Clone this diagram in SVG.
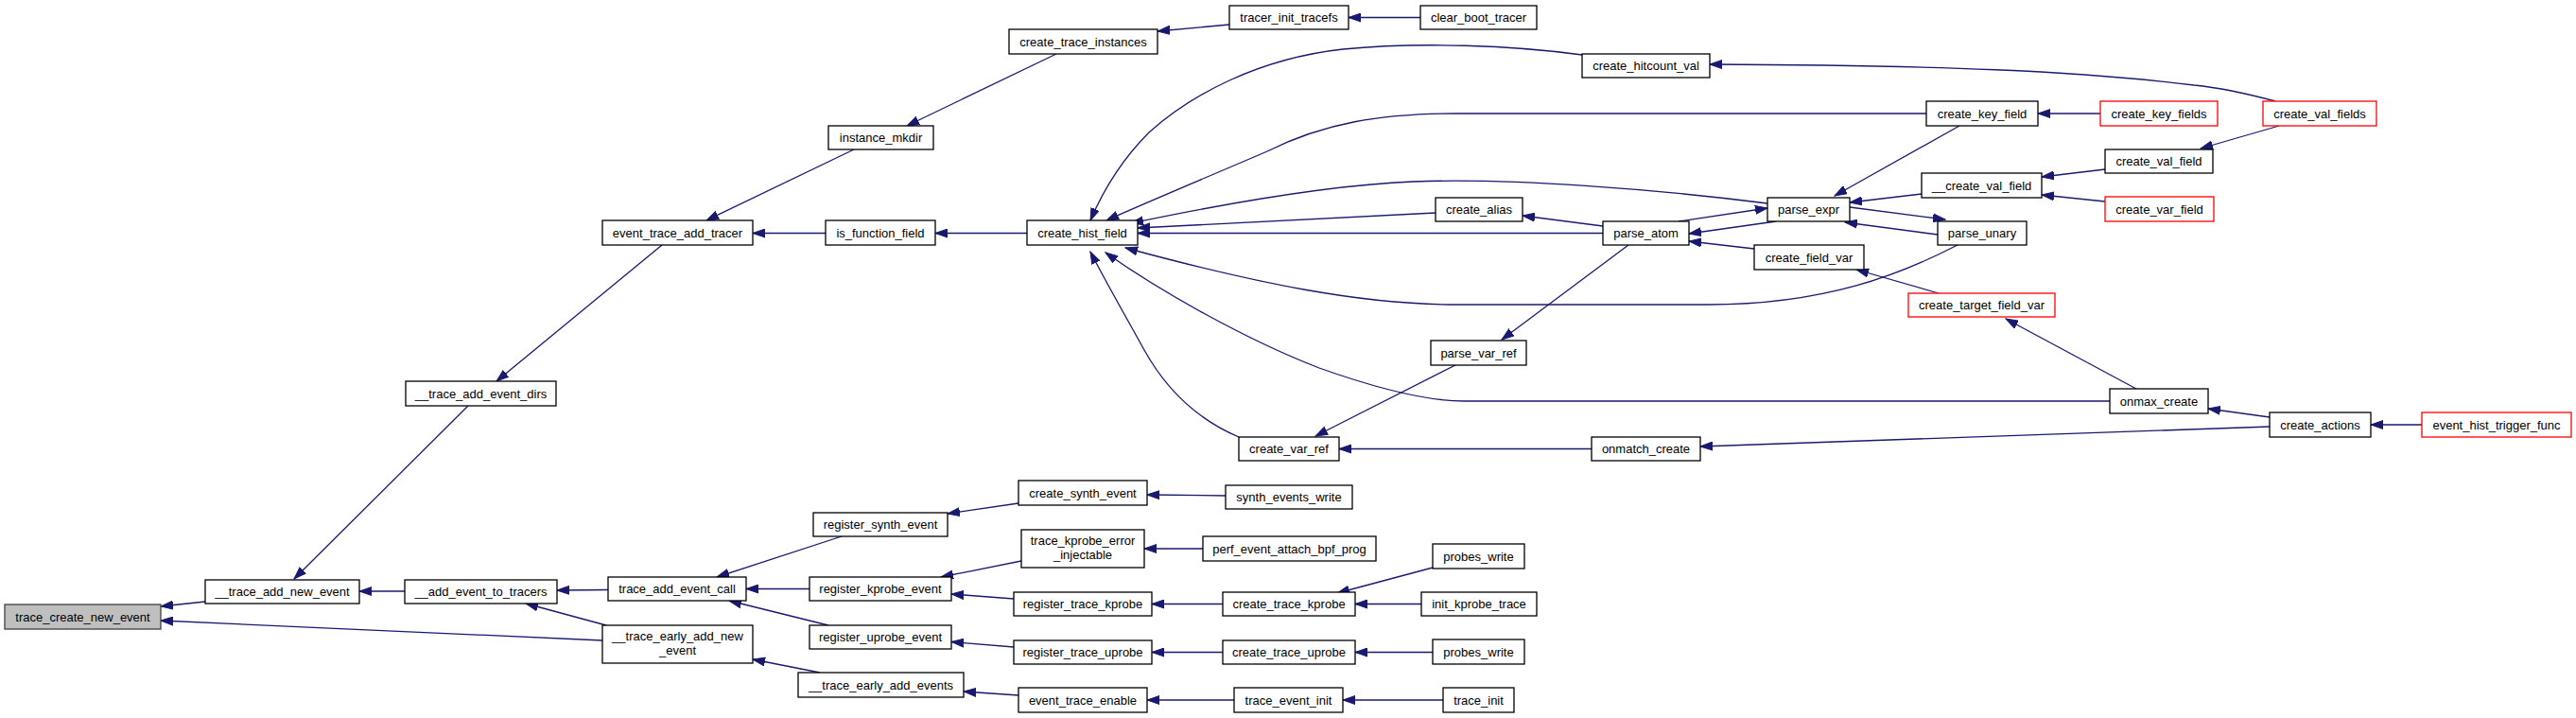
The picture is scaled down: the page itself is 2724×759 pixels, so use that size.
<svg xmlns="http://www.w3.org/2000/svg" width="2724" height="759" viewBox="0 0 2724 759">
<style>
rect{fill:#fff;stroke:#000;stroke-width:1.3}
rect.root{fill:#bfbfbf;stroke:#404040}
rect.red{stroke:#ff0000}
text{font-family:"Liberation Sans",Arial,sans-serif;font-size:13px;fill:#000;text-anchor:middle}
#edges path{fill:none;stroke:#191970;stroke-width:1.3;marker-end:url(#ah)}
</style>
<defs>
<marker id="ah" markerUnits="userSpaceOnUse" markerWidth="14" markerHeight="10" refX="13" refY="5" orient="auto" viewBox="0 0 14 10">
<path d="M0,0.5 L13,5 L0,9.5 z" fill="#191970" stroke="#191970" stroke-width="1"/>
</marker>
</defs>
<rect x="0" y="0" width="2724" height="759" style="fill:#fff;stroke:none"/>
<g id="edges">
<path d="M217,636 L170,641"/>
<path d="M637,677 L170,656"/>
<path d="M428,625 L380,625"/>
<path d="M495,429 L311,612"/>
<path d="M700,259 L525,403"/>
<path d="M643,623.5 L589,624"/>
<path d="M641,661 L556,638"/>
<path d="M903,158 L747,233"/>
<path d="M873,246.5 L796,246.5"/>
<path d="M1117,57 L959,133"/>
<path d="M1086,246.5 L989,246.5"/>
<path d="M890,567 L758,610"/>
<path d="M856,622.5 L789,622.5"/>
<path d="M876,661 L771,635"/>
<path d="M867,711 L796,697"/>
<path d="M1300,26 L1224,33"/>
<path d="M1077,532 L1002,543"/>
<path d="M1080,593 L995,610"/>
<path d="M1072,633 L1006,628"/>
<path d="M1072,684 L1006,678.5"/>
<path d="M1077,735 L1019,731"/>
<path d="M1502,18.5 L1426,18.5"/>
<path d="M1296,524 L1213,523"/>
<path d="M1272,580 L1210,580"/>
<path d="M1293,638.5 L1218,638.5"/>
<path d="M1293,689.5 L1218,689.5"/>
<path d="M1305,740 L1213,740"/>
<path d="M1515,600 L1414,627"/>
<path d="M1503,638.5 L1433,638.5"/>
<path d="M1515,689.5 L1433,689.5"/>
<path d="M1526,740 L1420,740"/>
<path d="M1673,58 C1600,48 1500,44 1420,52 C1330,62 1260,100 1215,140 C1185,170 1165,205 1153,233"/>
<path d="M2037,120 L1540,120 C1460,120 1400,130 1340,160 C1270,190 1210,215 1170,233"/>
<path d="M1869,215 C1750,200 1600,188 1494,192 C1420,195 1320,210 1196,236"/>
<path d="M1518,225 L1203,241"/>
<path d="M1695,246.5 L1203,246.5"/>
<path d="M2070,259 C2010,290 1930,322 1806,322 L1540,322 C1440,322 1330,300 1190,262"/>
<path d="M2231,424 L1548,424 C1500,424 1440,405 1395,389 C1320,360 1230,310 1169,267"/>
<path d="M1310,462 C1270,445 1235,415 1210,370 C1185,325 1165,290 1153,266"/>
<path d="M2072,133 L1940,207"/>
<path d="M2032,205 L1956,214"/>
<path d="M1956,219 L2057,232"/>
<path d="M2049,248 L1951,235"/>
<path d="M1775,234 L1869,220"/>
<path d="M1878,234 L1786,247"/>
<path d="M1855,263 L1786,255"/>
<path d="M1695,239 L1610,228"/>
<path d="M1722,259 L1588,359"/>
<path d="M1539,386 L1391,461"/>
<path d="M1683,474.5 L1416,474.5"/>
<path d="M2400,451 L1798,472"/>
<path d="M2400,441 L2335,432"/>
<path d="M2561,449 L2507,449"/>
<path d="M2050,310 L1963,285"/>
<path d="M2259,411 L2121,337"/>
<path d="M2226,179 L2159,187"/>
<path d="M2226,213 L2159,206"/>
<path d="M2410,133 L2327,157"/>
<path d="M2221,120 L2155,120"/>
<path d="M2406,107 C2380,100 2350,93 2320,90 C2200,75 2050,69 1808,68"/>
</g>
<g id="n1"><rect class="root" x="5" y="639" width="165" height="26"/><text x="87.5" y="656.5">trace_create_new_event</text></g>
<g id="n2"><rect x="217" y="613" width="163" height="25"/><text x="298.5" y="630">__trace_add_new_event</text></g>
<g id="n3"><rect x="428" y="613" width="161" height="25"/><text x="508.5" y="630">__add_event_to_tracers</text></g>
<g id="n4"><rect x="429" y="403" width="159" height="26"/><text x="508.5" y="420.5">__trace_add_event_dirs</text></g>
<g id="n5"><rect x="637" y="233" width="159" height="26"/><text x="716.5" y="250.5">event_trace_add_tracer</text></g>
<g id="n6"><rect x="643" y="610" width="146" height="25"/><text x="716" y="627">trace_add_event_call</text></g>
<g id="n7"><rect x="637" y="661" width="159" height="40"/><text x="716.5" y="677">__trace_early_add_new</text><text x="716.5" y="692">_event</text></g>
<g id="n8"><rect x="876" y="133" width="111" height="25"/><text x="931.5" y="150">instance_mkdir</text></g>
<g id="n9"><rect x="873" y="233" width="116" height="26"/><text x="931" y="250.5">is_function_field</text></g>
<g id="n10"><rect x="860" y="542" width="142" height="25"/><text x="931" y="559">register_synth_event</text></g>
<g id="n11"><rect x="856" y="610" width="150" height="25"/><text x="931" y="627">register_kprobe_event</text></g>
<g id="n12"><rect x="856" y="661" width="150" height="25"/><text x="931" y="678">register_uprobe_event</text></g>
<g id="n13"><rect x="844" y="711" width="175" height="26"/><text x="931.5" y="728.5">__trace_early_add_events</text></g>
<g id="n14"><rect x="1067" y="31" width="157" height="26"/><text x="1145.5" y="48.5">create_trace_instances</text></g>
<g id="n15"><rect x="1086" y="233" width="117" height="26"/><text x="1144.5" y="250.5">create_hist_field</text></g>
<g id="n16"><rect x="1077" y="508" width="136" height="26"/><text x="1145" y="525.5">create_synth_event</text></g>
<g id="n17"><rect x="1080" y="560" width="130" height="40"/><text x="1145" y="576">trace_kprobe_error</text><text x="1145" y="591">_injectable</text></g>
<g id="n18"><rect x="1072" y="626" width="146" height="25"/><text x="1145" y="643">register_trace_kprobe</text></g>
<g id="n19"><rect x="1072" y="677" width="146" height="25"/><text x="1145" y="694">register_trace_uprobe</text></g>
<g id="n20"><rect x="1077" y="727" width="136" height="26"/><text x="1145" y="744.5">event_trace_enable</text></g>
<g id="n21"><rect x="1300" y="6" width="126" height="25"/><text x="1363" y="23">tracer_init_tracefs</text></g>
<g id="n22"><rect x="1310" y="462" width="106" height="25"/><text x="1363" y="479">create_var_ref</text></g>
<g id="n23"><rect x="1296" y="513" width="134" height="25"/><text x="1363" y="530">synth_events_write</text></g>
<g id="n24"><rect x="1272" y="567" width="183" height="26"/><text x="1363.5" y="584.5">perf_event_attach_bpf_prog</text></g>
<g id="n25"><rect x="1293" y="626" width="140" height="25"/><text x="1363" y="643">create_trace_kprobe</text></g>
<g id="n26"><rect x="1293" y="677" width="140" height="25"/><text x="1363" y="694">create_trace_uprobe</text></g>
<g id="n27"><rect x="1305" y="727" width="115" height="26"/><text x="1362.5" y="744.5">trace_event_init</text></g>
<g id="n28"><rect x="1502" y="6" width="123" height="25"/><text x="1563.5" y="23">clear_boot_tracer</text></g>
<g id="n29"><rect x="1518" y="209" width="92" height="25"/><text x="1564" y="226">create_alias</text></g>
<g id="n30"><rect x="1513" y="360" width="101" height="26"/><text x="1563.5" y="377.5">parse_var_ref</text></g>
<g id="n31"><rect x="1515" y="575" width="97" height="26"/><text x="1563.5" y="592.5">probes_write</text></g>
<g id="n32"><rect x="1503" y="626" width="122" height="25"/><text x="1564" y="643">init_kprobe_trace</text></g>
<g id="n33"><rect x="1515" y="676" width="97" height="26"/><text x="1563.5" y="693.5">probes_write</text></g>
<g id="n34"><rect x="1526" y="727" width="75" height="26"/><text x="1563.5" y="744.5">trace_init</text></g>
<g id="n35"><rect x="1673" y="57" width="135" height="25"/><text x="1740.5" y="74">create_hitcount_val</text></g>
<g id="n36"><rect x="1695" y="234" width="91" height="25"/><text x="1740.5" y="251">parse_atom</text></g>
<g id="n37"><rect x="1683" y="462" width="115" height="25"/><text x="1740.5" y="479">onmatch_create</text></g>
<g id="n38"><rect x="1869" y="209" width="87" height="25"/><text x="1912.5" y="226">parse_expr</text></g>
<g id="n39"><rect x="1855" y="259" width="116" height="26"/><text x="1913" y="276.5">create_field_var</text></g>
<g id="n40"><rect class="red" x="2018" y="310" width="155" height="25"/><text x="2095.5" y="327">create_target_field_var</text></g>
<g id="n41"><rect x="2037" y="107" width="118" height="26"/><text x="2096" y="124.5">create_key_field</text></g>
<g id="n42"><rect x="2032" y="183" width="127" height="26"/><text x="2095.5" y="200.5">__create_val_field</text></g>
<g id="n43"><rect x="2049" y="234" width="94" height="25"/><text x="2096" y="251">parse_unary</text></g>
<g id="n44"><rect x="2231" y="411" width="104" height="26"/><text x="2283" y="428.5">onmax_create</text></g>
<g id="n45"><rect class="red" x="2221" y="107" width="124" height="26"/><text x="2283" y="124.5">create_key_fields</text></g>
<g id="n46"><rect x="2226" y="158" width="114" height="25"/><text x="2283" y="175">create_val_field</text></g>
<g id="n47"><rect class="red" x="2226" y="208" width="115" height="26"/><text x="2283.5" y="225.5">create_var_field</text></g>
<g id="n48"><rect x="2400" y="436" width="107" height="26"/><text x="2453.5" y="453.5">create_actions</text></g>
<g id="n49"><rect class="red" x="2393" y="107" width="120" height="26"/><text x="2453" y="124.5">create_val_fields</text></g>
<g id="n50"><rect class="red" x="2561" y="436" width="158" height="26"/><text x="2640" y="453.5">event_hist_trigger_func</text></g>
</svg>
